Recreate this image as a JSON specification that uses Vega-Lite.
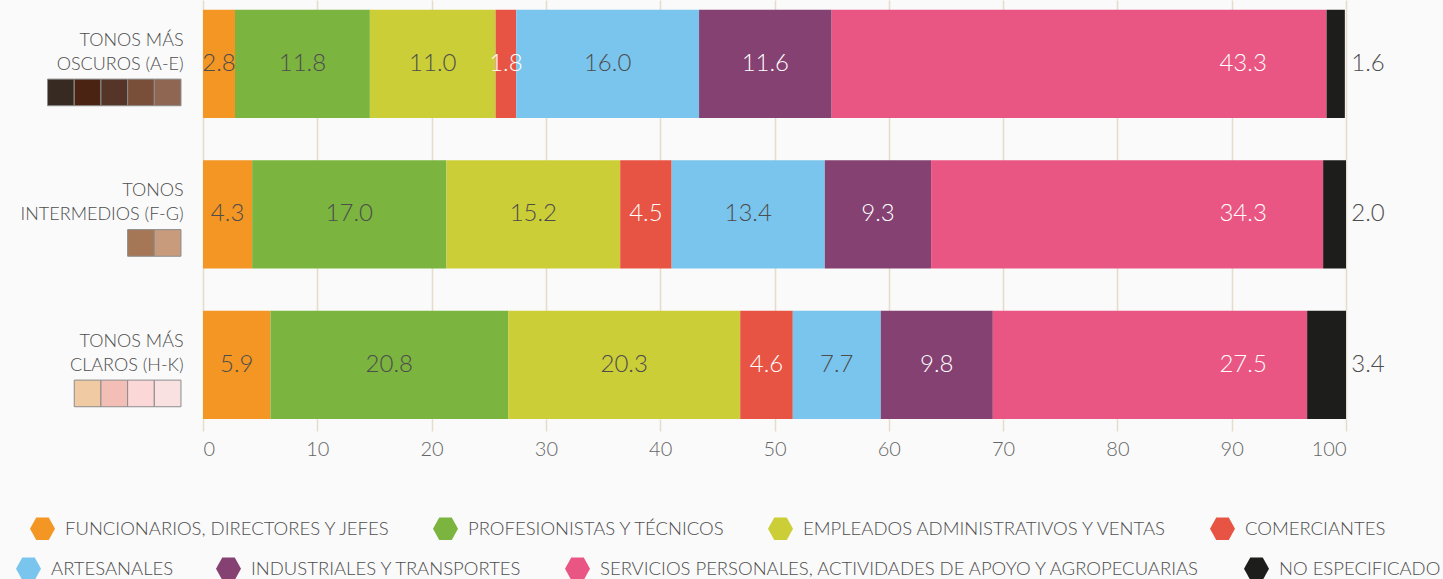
{
  "$schema": "https://vega.github.io/schema/vega-lite/v6.json",
  "background": "#fafafa",
  "padding": {"left": 0, "top": 0, "right": 10, "bottom": 0},
  "bounds": "flush",
  "config": {
    "view": {"stroke": null},
    "font": "Lato",
    "concat": {"spacing": 22}
  },
  "resolve": {"scale": {"fill": "independent"}, "legend": {"fill": "independent"}},
  "datasets": {
    "ocup": [
      {"grupo": "OSCUROS", "orden": 1, "categoria": "FUNCIONARIOS, DIRECTORES Y JEFES", "valor": 2.8},
      {"grupo": "OSCUROS", "orden": 2, "categoria": "PROFESIONISTAS Y TÉCNICOS", "valor": 11.8},
      {"grupo": "OSCUROS", "orden": 3, "categoria": "EMPLEADOS ADMINISTRATIVOS Y VENTAS", "valor": 11.0},
      {"grupo": "OSCUROS", "orden": 4, "categoria": "COMERCIANTES", "valor": 1.8},
      {"grupo": "OSCUROS", "orden": 5, "categoria": "ARTESANALES", "valor": 16.0},
      {"grupo": "OSCUROS", "orden": 6, "categoria": "INDUSTRIALES Y TRANSPORTES", "valor": 11.6},
      {"grupo": "OSCUROS", "orden": 7, "categoria": "SERVICIOS PERSONALES, ACTIVIDADES DE APOYO Y AGROPECUARIAS", "valor": 43.3},
      {"grupo": "OSCUROS", "orden": 8, "categoria": "NO ESPECIFICADO", "valor": 1.6},
      {"grupo": "INTERMEDIOS", "orden": 1, "categoria": "FUNCIONARIOS, DIRECTORES Y JEFES", "valor": 4.3},
      {"grupo": "INTERMEDIOS", "orden": 2, "categoria": "PROFESIONISTAS Y TÉCNICOS", "valor": 17.0},
      {"grupo": "INTERMEDIOS", "orden": 3, "categoria": "EMPLEADOS ADMINISTRATIVOS Y VENTAS", "valor": 15.2},
      {"grupo": "INTERMEDIOS", "orden": 4, "categoria": "COMERCIANTES", "valor": 4.5},
      {"grupo": "INTERMEDIOS", "orden": 5, "categoria": "ARTESANALES", "valor": 13.4},
      {"grupo": "INTERMEDIOS", "orden": 6, "categoria": "INDUSTRIALES Y TRANSPORTES", "valor": 9.3},
      {"grupo": "INTERMEDIOS", "orden": 7, "categoria": "SERVICIOS PERSONALES, ACTIVIDADES DE APOYO Y AGROPECUARIAS", "valor": 34.3},
      {"grupo": "INTERMEDIOS", "orden": 8, "categoria": "NO ESPECIFICADO", "valor": 2.0},
      {"grupo": "CLAROS", "orden": 1, "categoria": "FUNCIONARIOS, DIRECTORES Y JEFES", "valor": 5.9},
      {"grupo": "CLAROS", "orden": 2, "categoria": "PROFESIONISTAS Y TÉCNICOS", "valor": 20.8},
      {"grupo": "CLAROS", "orden": 3, "categoria": "EMPLEADOS ADMINISTRATIVOS Y VENTAS", "valor": 20.3},
      {"grupo": "CLAROS", "orden": 4, "categoria": "COMERCIANTES", "valor": 4.6},
      {"grupo": "CLAROS", "orden": 5, "categoria": "ARTESANALES", "valor": 7.7},
      {"grupo": "CLAROS", "orden": 6, "categoria": "INDUSTRIALES Y TRANSPORTES", "valor": 9.8},
      {"grupo": "CLAROS", "orden": 7, "categoria": "SERVICIOS PERSONALES, ACTIVIDADES DE APOYO Y AGROPECUARIAS", "valor": 27.5},
      {"grupo": "CLAROS", "orden": 8, "categoria": "NO ESPECIFICADO", "valor": 3.4}
    ],
    "tonos": [
      {"grupo": "OSCUROS", "tono": "A"},
      {"grupo": "OSCUROS", "tono": "B"},
      {"grupo": "OSCUROS", "tono": "C"},
      {"grupo": "OSCUROS", "tono": "D"},
      {"grupo": "OSCUROS", "tono": "E"},
      {"grupo": "INTERMEDIOS", "tono": "F"},
      {"grupo": "INTERMEDIOS", "tono": "G"},
      {"grupo": "CLAROS", "tono": "H"},
      {"grupo": "CLAROS", "tono": "I"},
      {"grupo": "CLAROS", "tono": "J"},
      {"grupo": "CLAROS", "tono": "K"}
    ],
    "etiquetas": [
      {"grupo": "OSCUROS", "etiqueta": "TONOS MÁS\nOSCUROS (A-E)"},
      {"grupo": "INTERMEDIOS", "etiqueta": "TONOS\nINTERMEDIOS (F-G)"},
      {"grupo": "CLAROS", "etiqueta": "TONOS MÁS\nCLAROS (H-K)"}
    ]
  },
  "hconcat": [
    {
      "width": 181,
      "height": 419,
      "encoding": {
        "y": {"field": "grupo", "type": "nominal", "scale": {"type": "band", "domain": ["OSCUROS", "INTERMEDIOS", "CLAROS"], "paddingInner": 0.28, "paddingOuter": 0.032, "align": 1}, "axis": null}
      },
      "layer": [
        {
          "data": {"name": "tonos"},
          "transform": [
            {"window": [{"op": "row_number", "as": "k"}], "groupby": ["grupo"], "sort": [{"field": "tono", "order": "descending"}]}
          ],
          "mark": {"type": "point", "shape": "square", "filled": true, "size": 710, "stroke": "#8c8c8c", "strokeWidth": 1, "opacity": 1},
          "encoding": {
            "x": {"field": "k", "type": "ordinal", "scale": {"type": "band", "domain": [5, 4, 3, 2, 1], "paddingInner": 0, "paddingOuter": 0.89, "align": 1}, "axis": null},
            "y": {"field": "grupo", "type": "nominal", "bandPosition": 0.764, "axis": null},
            "fill": {"field": "tono", "type": "nominal", "legend": null, "scale": {"domain": ["A", "B", "C", "D", "E", "F", "G", "H", "I", "J", "K"], "range": ["#362a22", "#4a2312", "#553527", "#7a4f3a", "#8e6651", "#a67757", "#c79b7c", "#efcaa3", "#f2beb6", "#fbd7d8", "#f9e1e2"]}}
          }
        },
        {
          "data": {"name": "etiquetas"},
          "mark": {"type": "text", "align": "right", "baseline": "middle", "dx": 16, "dy": -23, "lineBreak": "\n", "lineHeight": 24, "fontSize": 18, "fontWeight": 300, "color": "#4d4d4d"},
          "encoding": {
            "x": {"datum": 1, "type": "ordinal"},
            "text": {"field": "etiqueta"}
          }
        }
      ]
    },
    {
      "width": 1143,
      "height": 419,
      "data": {"name": "ocup"},
      "transform": [
        {"stack": "valor", "groupby": ["grupo"], "sort": [{"field": "orden"}], "as": ["x0", "x1"]},
        {"calculate": "(datum.x0 + datum.x1) / 2", "as": "xm"}
      ],
      "encoding": {
        "y": {"field": "grupo", "type": "nominal", "scale": {"type": "band", "domain": ["OSCUROS", "INTERMEDIOS", "CLAROS"], "paddingInner": 0.28, "paddingOuter": 0.032, "align": 1}, "axis": null},
        "x": {"field": "x0", "type": "quantitative", "scale": {"domain": [0, 100], "nice": false}, "axis": {"title": null, "values": [0, 10, 20, 30, 40, 50, 60, 70, 80, 90, 100], "domain": false, "grid": true, "gridColor": "#e6dccb", "gridWidth": 1.5, "tickColor": "#e6dccb", "tickWidth": 1.5, "tickSize": 12, "labelFontSize": 20, "labelFontWeight": 300, "labelColor": "#666666", "labelPadding": 8, "labelFont": "Lato"}}
      },
      "layer": [
        {
          "transform": [{"filter": "datum.orden <= 4"}],
          "mark": {"type": "bar"},
          "encoding": {
            "x2": {"field": "x1"},
            "color": {
              "field": "categoria", "type": "nominal",
              "scale": {
                "domain": ["FUNCIONARIOS, DIRECTORES Y JEFES", "PROFESIONISTAS Y TÉCNICOS", "EMPLEADOS ADMINISTRATIVOS Y VENTAS", "COMERCIANTES"],
                "range": ["#f39623", "#7bb43f", "#cbce37", "#e85443"]
              },
              "legend": {
                "title": null, "orient": "none", "legendX": 30, "legendY": 516,
                "direction": "horizontal",
                "symbolType": "M-1,0L-0.5,-0.9L0.5,-0.9L1,0L0.5,0.9L-0.5,0.9Z",
                "symbolSize": 625, "symbolStrokeWidth": 0, "symbolOpacity": 1,
                "labelFontSize": 18.5, "labelFontWeight": 300, "labelColor": "#4d4d4d", "labelFont": "Lato", "labelLimit": 0, "labelOffset": 10,
                "columnPadding": 42
              }
            }
          }
        },
        {
          "transform": [{"filter": "datum.orden >= 5"}],
          "mark": {"type": "bar"},
          "encoding": {
            "x2": {"field": "x1"},
            "fill": {
              "field": "categoria", "type": "nominal",
              "scale": {
                "domain": ["ARTESANALES", "INDUSTRIALES Y TRANSPORTES", "SERVICIOS PERSONALES, ACTIVIDADES DE APOYO Y AGROPECUARIAS", "NO ESPECIFICADO"],
                "range": ["#7ac5ed", "#854172", "#e95683", "#1d1d1b"]
              },
              "legend": {
                "title": null, "orient": "none", "legendX": -187, "legendY": 556,
                "direction": "horizontal",
                "symbolType": "M-1,0L-0.5,-0.9L0.5,-0.9L1,0L0.5,0.9L-0.5,0.9Z",
                "symbolSize": 625, "symbolStrokeWidth": 0, "symbolOpacity": 1,
                "labelFontSize": 18.5, "labelFontWeight": 300, "labelColor": "#4d4d4d", "labelFont": "Lato", "labelLimit": 0, "labelOffset": 10,
                "columnPadding": 42
              }
            }
          }
        },
        {
          "transform": [{"filter": "datum.orden <= 6"}],
          "mark": {"type": "text", "fontSize": 24, "fontWeight": 300, "baseline": "middle", "align": "center"},
          "encoding": {
            "x": {"field": "xm", "type": "quantitative"},
            "text": {"field": "valor", "type": "quantitative", "format": ".1f"},
            "color": {"condition": {"test": "datum.orden == 4 || datum.orden == 6", "value": "#ffffff"}, "value": "#4d4d4d"}
          }
        },
        {
          "transform": [{"filter": "datum.orden == 7"}],
          "mark": {"type": "text", "fontSize": 24, "fontWeight": 300, "baseline": "middle", "align": "center", "color": "#ffffff"},
          "encoding": {
            "x": {"datum": 91, "type": "quantitative"},
            "text": {"field": "valor", "type": "quantitative", "format": ".1f"}
          }
        },
        {
          "transform": [{"filter": "datum.orden == 8"}],
          "mark": {"type": "text", "fontSize": 24, "fontWeight": 300, "baseline": "middle", "align": "center", "color": "#4d4d4d", "dx": 22},
          "encoding": {
            "x": {"datum": 100, "type": "quantitative"},
            "text": {"field": "valor", "type": "quantitative", "format": ".1f"}
          }
        }
      ]
    }
  ]
}
